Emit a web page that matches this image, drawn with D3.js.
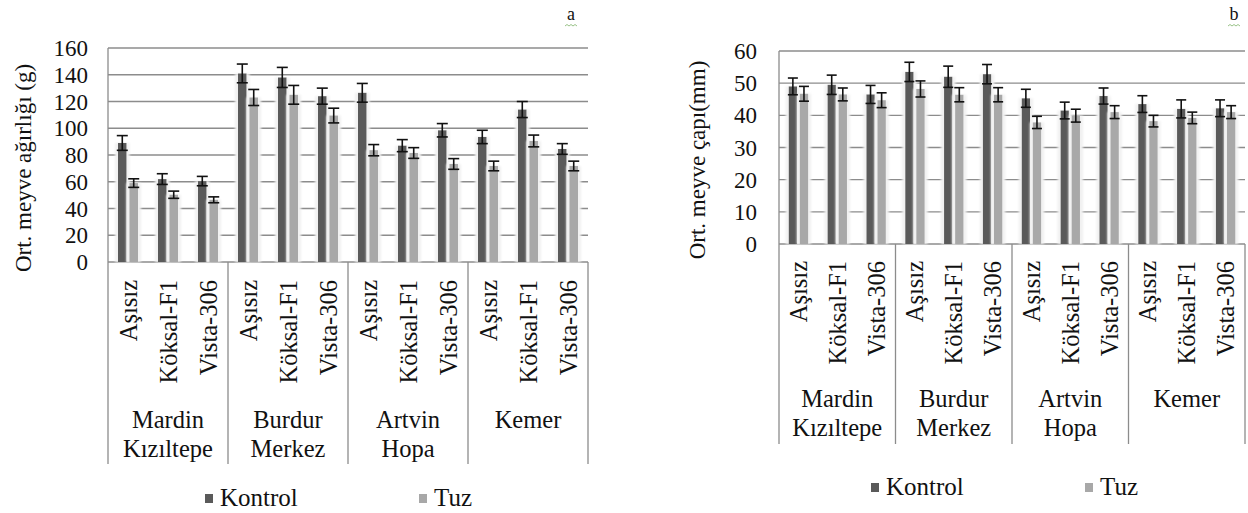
<!DOCTYPE html>
<html>
<head>
<meta charset="utf-8">
<script src="https://cdn.jsdelivr.net/npm/d3@7"></script>
<style>
  html, body { margin: 0; padding: 0; background: #fff; }
  svg { display: block; }
</style>
</head>
<body>
<svg id="chart" width="1248" height="513"></svg>
<script>
// data
const groups = [["Mardin", "Kızıltepe"], ["Burdur", "Merkez"], ["Artvin", "Hopa"], ["Kemer"]];
const subcats = ["Aşısız", "Köksal-F1", "Vista-306"];
const series = ["Kontrol", "Tuz"];

// a: ortalama meyve ağırlığı (g)
const weightKontrol = [89, 62, 60.5, 141, 138, 124, 126.5, 87, 98.5, 93.5, 114, 84.5];
const weightKontrolErr = [5.5, 4, 3.5, 7, 7.5, 6, 7, 4.5, 5, 5, 6, 4];
const weightTuz = [59, 50.3, 46.5, 123, 125, 109.5, 83.6, 81.5, 73.3, 71.8, 90.5, 71.8];
const weightTuzErr = [3.2, 2.7, 2.2, 6, 7, 5.5, 4.2, 4, 4, 3.6, 4.4, 3.6];
const weightTicks = [0, 20, 40, 60, 80, 100, 120, 140, 160];

// b: ortalama meyve çapı (mm)
const diamKontrol = [49, 49.5, 46.5, 53.5, 52, 52.8, 45.3, 41.5, 46, 43.5, 42, 42.2];
const diamKontrolErr = [2.6, 3, 2.8, 3, 3.3, 3, 2.8, 2.6, 2.5, 2.6, 2.8, 2.6];
const diamTuz = [46.7, 46.5, 44.7, 48.2, 46.4, 46.4, 37.8, 39.9, 41, 38.2, 39.2, 41];
const diamTuzErr = [2.3, 2, 2.3, 2.5, 2.2, 2.2, 1.9, 2, 2, 1.8, 1.8, 2];
const diamTicks = [0, 10, 20, 30, 40, 50, 60];

const colors = { Kontrol: "#5a5a5a", Tuz: "#a8a8a8" };
const gridColor = "#8c8c8c";
const FONT = "Liberation Serif";

const svg = d3.select("#chart");

// halo behind bars
const defs = svg.append("defs");
const f = defs.append("filter").attr("id", "halo")
    .attr("x", "-60%").attr("y", "-5%").attr("width", "220%").attr("height", "110%");
f.append("feMorphology").attr("in", "SourceAlpha").attr("operator", "dilate").attr("radius", "3 0").attr("result", "d");
f.append("feFlood").attr("flood-color", "#f1f1f1");
f.append("feComposite").attr("in2", "d").attr("operator", "in").attr("result", "c");
f.append("feGaussianBlur").attr("in", "c").attr("stdDeviation", "1.2").attr("result", "b");
const fm = f.append("feMerge");
fm.append("feMergeNode").attr("in", "b");
fm.append("feMergeNode").attr("in", "SourceGraphic");

function drawPanel(p) {
    const g = svg.append("g");

    const y = d3.scaleLinear().domain([0, p.max]).range([p.bottom, p.top]);

    const x0 = d3.scaleBand().domain(d3.range(groups.length)).range([p.left, p.right]);
    const xs = d3.scaleBand().domain(subcats).range([0, x0.bandwidth()]);
    const x1 = d3.scaleBand().domain(series)
        .range([xs.bandwidth() * 0.25, xs.bandwidth() * 0.75]).paddingInner(0.25);

    // gridlines
    g.append("g").selectAll("line").data(p.ticks).join("line")
        .attr("x1", p.left).attr("x2", p.right)
        .attr("y1", d => y(d)).attr("y2", d => y(d))
        .attr("stroke", gridColor).attr("stroke-width", 1.3);

    // y tick labels
    g.append("g").selectAll("text").data(p.ticks).join("text")
        .attr("x", p.left - p.labelGap).attr("y", d => y(d))
        .attr("dy", "0.35em").attr("text-anchor", "end")
        .attr("font-family", FONT).attr("font-size", 23).attr("fill", "#111")
        .text(d => d);

    // y title
    g.append("text")
        .attr("transform", `translate(${p.titleX},${p.titleY}) rotate(-90)`)
        .attr("text-anchor", "middle").attr("dy", "0.35em")
        .attr("font-family", FONT).attr("font-size", 23).attr("fill", "#111")
        .text(p.title);

    // rows
    const rows = [];
    groups.forEach((grp, gi) => {
        subcats.forEach((s, si) => {
            const k = gi * subcats.length + si;
            series.forEach(se => {
                rows.push({
                    gi, s, se,
                    v: p.values[se][k],
                    e: p.errors[se][k]
                });
            });
        });
    });
    const bx = d => x0(d.gi) + xs(d.s) + x1(d.se);

    g.append("g").selectAll("rect").data(rows).join("rect")
        .attr("x", bx)
        .attr("y", d => y(d.v))
        .attr("width", x1.bandwidth())
        .attr("height", d => y(0) - y(d.v))
        .attr("fill", d => colors[d.se])
        .attr("filter", "url(#halo)");

    // error bars
    const eb = g.append("g").attr("stroke", "#111").attr("stroke-width", 1.6);
    eb.selectAll("line.v").data(rows).join("line").attr("class", "v")
        .attr("x1", d => bx(d) + x1.bandwidth() / 2).attr("x2", d => bx(d) + x1.bandwidth() / 2)
        .attr("y1", d => y(d.v + d.e)).attr("y2", d => y(d.v - d.e));
    [1, -1].forEach(sign => {
        eb.selectAll("line.c" + (sign > 0 ? "u" : "d")).data(rows).join("line")
            .attr("class", "c" + (sign > 0 ? "u" : "d"))
            .attr("x1", d => bx(d) + x1.bandwidth() / 2 - p.cap)
            .attr("x2", d => bx(d) + x1.bandwidth() / 2 + p.cap)
            .attr("y1", d => y(d.v + sign * d.e)).attr("y2", d => y(d.v + sign * d.e));
    });

    // axes lines
    g.append("line")
        .attr("x1", p.left).attr("x2", p.left).attr("y1", p.top).attr("y2", p.catBottom)
        .attr("stroke", gridColor).attr("stroke-width", 1.3);
    g.append("g").selectAll("line").data(d3.range(1, groups.length + 1)).join("line")
        .attr("x1", d => x0(d - 1) + x0.bandwidth()).attr("x2", d => x0(d - 1) + x0.bandwidth())
        .attr("y1", p.bottom).attr("y2", p.catBottom)
        .attr("stroke", gridColor).attr("stroke-width", 1.3);

    // sub labels (rotated)
    const sub = [];
    groups.forEach((grp, gi) => subcats.forEach(s => sub.push({ gi, s })));
    g.append("g").selectAll("text").data(sub).join("text")
        .attr("transform", d => `translate(${x0(d.gi) + xs(d.s) + xs.bandwidth() / 2},${p.subTop}) rotate(-90)`)
        .attr("dy", "0.35em").attr("text-anchor", "end")
        .attr("font-family", FONT).attr("font-size", 24.5).attr("fill", "#111")
        .text(d => d.s);

    // group labels
    const gl = g.append("g").selectAll("text").data(groups).join("text")
        .attr("text-anchor", "middle")
        .attr("font-family", FONT).attr("font-size", 24.5).attr("fill", "#111");
    gl.selectAll("tspan").data((d, i) => d.map(t => ({ t, i }))).join("tspan")
        .attr("x", d => x0(d.i) + x0.bandwidth() / 2)
        .attr("y", (d, j) => p.groupBase + j * 28.5)
        .text(d => d.t);

    // legend
    const lg = g.append("g").selectAll("g").data(series).join("g")
        .attr("transform", (d, i) => `translate(${p.legendX[i]},${p.legendY})`);
    lg.append("rect").attr("x", 0).attr("y", -12).attr("width", 8).attr("height", 9)
        .attr("fill", d => colors[d]);
    lg.append("text").attr("x", 15).attr("y", 0)
        .attr("font-family", FONT).attr("font-size", 25).attr("fill", "#111")
        .text(d => d);

    // panel letter
    g.append("text").attr("x", p.letterX).attr("y", 20)
        .attr("font-family", FONT).attr("font-size", 18)
        .attr("text-anchor", "middle").attr("fill", "#111").text(p.letter);
    g.append("path")
        .attr("d", `M${p.letterX - 6},26 l2,-1.5 l2,1.5 l2,-1.5 l2,1.5 l2,-1.5 l2,1.5`)
        .attr("fill", "none").attr("stroke", "#7fb36a").attr("stroke-width", 0.8);
}

drawPanel({
    left: 108, right: 588, top: 48, bottom: 262, max: 160,
    ticks: weightTicks, labelGap: 20,
    values: { Kontrol: weightKontrol, Tuz: weightTuz },
    errors: { Kontrol: weightKontrolErr, Tuz: weightTuzErr },
    title: "Ort. meyve ağırlığı (g)", titleX: 23, titleY: 168,
    cap: 5.5, catBottom: 464, subTop: 280, groupBase: 428,
    legendX: [205, 419], legendY: 506,
    letter: "a", letterX: 571
});

drawPanel({
    left: 779, right: 1245, top: 51, bottom: 244, max: 60,
    ticks: diamTicks, labelGap: 22,
    values: { Kontrol: diamKontrol, Tuz: diamTuz },
    errors: { Kontrol: diamKontrolErr, Tuz: diamTuzErr },
    title: "Ort. meyve çapı(mm)", titleX: 697, titleY: 160,
    cap: 5, catBottom: 444, subTop: 261, groupBase: 407,
    legendX: [871, 1085], legendY: 495,
    letter: "b", letterX: 1234
});
</script>
</body>
</html>
